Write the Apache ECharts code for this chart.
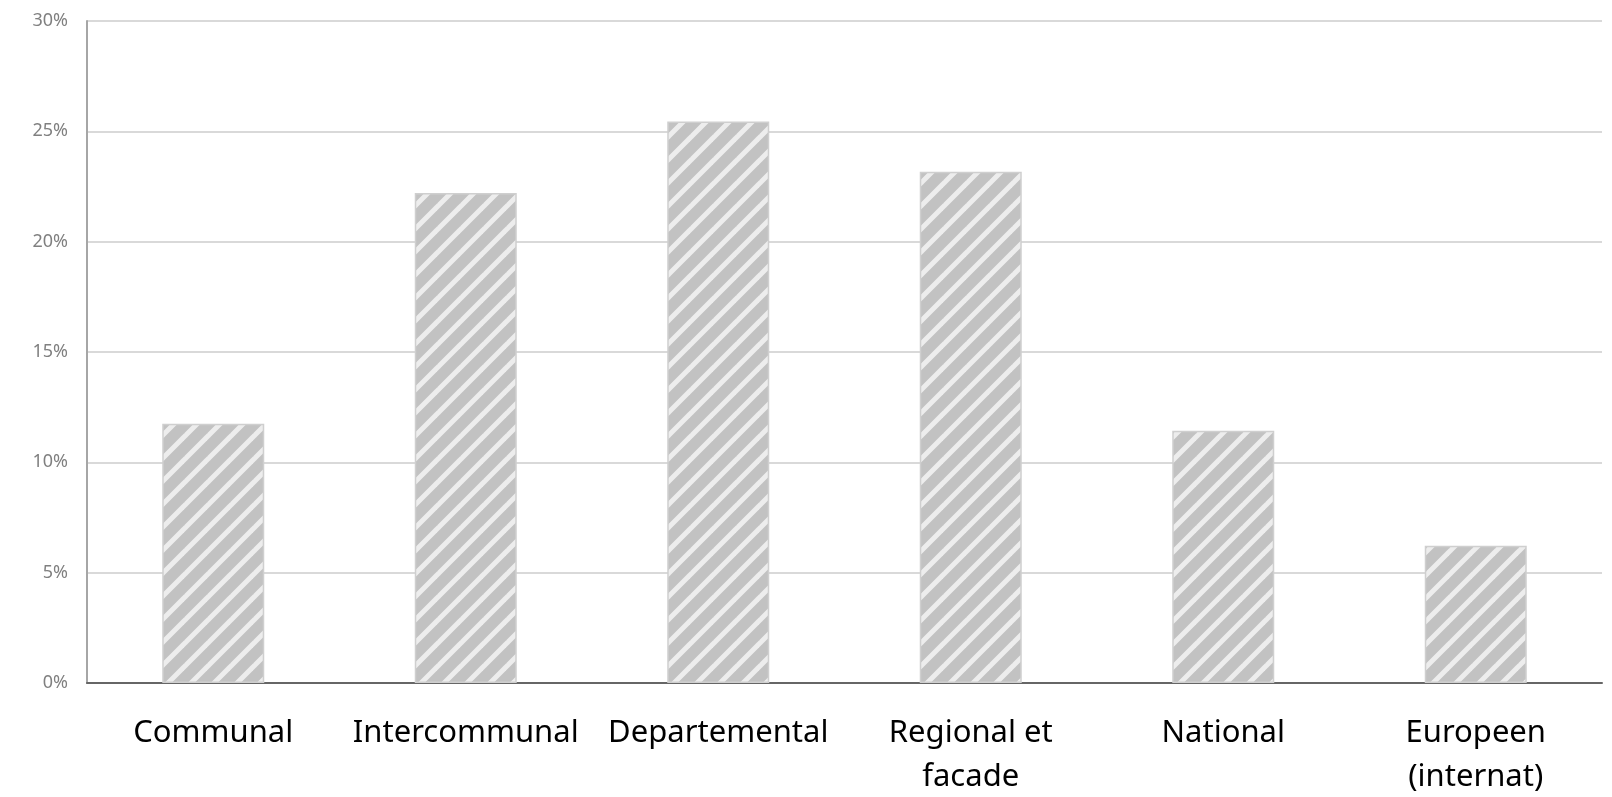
<!DOCTYPE html>
<html>
<head>
<meta charset="utf-8">
<script src="https://cdn.jsdelivr.net/npm/echarts@6/dist/echarts.min.js"></script>
<style>
html,body{margin:0;padding:0;background:#fff;}
#chart{width:1612px;height:797px;}
</style>
</head>
<body>
<div id="chart"></div>
<script>
const categories = ['Communal', 'Intercommunal', 'Departemental', 'Regional et\nfacade', 'National', 'Europeen\n(internat)'];
const values = [11.75, 22.2, 25.45, 23.17, 11.43, 6.22];
const yTicks = { min: 0, max: 30, interval: 5 };

function makeStripePattern() {
  const P = 23;
  const c = document.createElement('canvas');
  c.width = P; c.height = P;
  const ctx = c.getContext('2d');
  ctx.fillStyle = '#c2c2c2';
  ctx.fillRect(0, 0, P, P);
  ctx.strokeStyle = '#ededed';
  ctx.lineWidth = 5;
  for (const off of [-P, 0, P]) {
    ctx.beginPath();
    ctx.moveTo(off - 2, P + 2);
    ctx.lineTo(off + P + 2, -2);
    ctx.stroke();
  }
  return c;
}

const chart = echarts.init(document.getElementById('chart'), null, { renderer: 'canvas' });
chart.setOption({
  animation: false,
  backgroundColor: '#ffffff',
  grid: { left: 87, right: 10, top: 21, bottom: 114, containLabel: false, outerBoundsMode: 'none' },
  xAxis: {
    type: 'category',
    data: categories,
    axisLine: { show: true, lineStyle: { color: '#666666', width: 2 } },
    axisTick: { show: false },
    axisLabel: {
      interval: 0,
      color: '#000000',
      fontFamily: 'Noto Sans',
      fontSize: 31,
      lineHeight: 44,
      margin: 28
    }
  },
  yAxis: {
    type: 'value',
    min: yTicks.min,
    max: yTicks.max,
    interval: yTicks.interval,
    axisLine: { show: true, lineStyle: { color: '#a6a6a6', width: 2 } },
    axisTick: { show: false },
    splitLine: { show: true, lineStyle: { color: '#d9d9d9', width: 2 } },
    axisLabel: {
      formatter: '{value}%',
      color: '#808080',
      fontFamily: 'Noto Sans',
      fontSize: 18,
      margin: 19
    }
  },
  series: [{
    type: 'bar',
    data: values,
    barWidth: '40.4%',
    itemStyle: {
      color: { image: makeStripePattern(), repeat: 'repeat' },
      borderColor: '#cfcfcf',
      borderWidth: 1.5
    }
  }]
});
</script>
</body>
</html>
